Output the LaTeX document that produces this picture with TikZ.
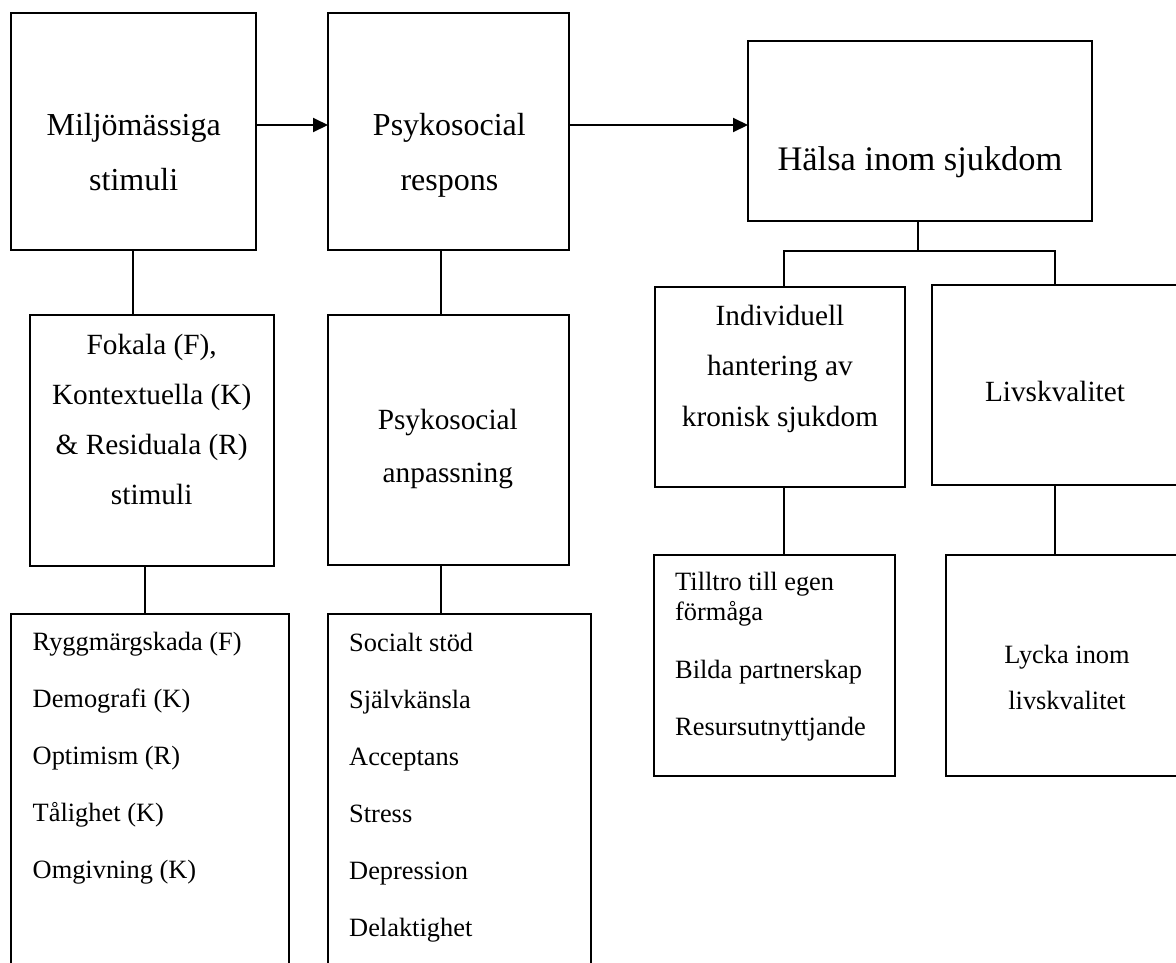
\documentclass[tikz,border=0pt]{standalone}
\usepackage{fontspec}
\setmainfont{Liberation Serif}
\usetikzlibrary{arrows.meta}

\begin{document}
\begin{tikzpicture}[x=1pt, y=-1pt, >={Triangle[length=15pt,width=14pt]},
  box/.style 2 args={draw, line width=2pt, inner sep=0pt, outer sep=0pt,
    minimum width=#1, minimum height=#2},
  conn/.style={line width=2pt},
  txt/.style={inner sep=0pt, anchor=base, align=center}]
\useasboundingbox (0,0) rectangle (1176,962);
\clip (0,0) rectangle (1176,962);

% boxes
\node[box={245pt}{237pt}] (b1) at (133,131.4) {};
\node[box={241pt}{237pt}] (b2) at (448.5,131.4) {};
\node[box={344pt}{180pt}] (b3) at (920,131) {};
\node[box={244pt}{251pt}] (b4) at (152,440.5) {};
\node[box={241.5pt}{250pt}] (b5) at (448.7,440) {};
\node[box={278pt}{386pt}] (b6) at (150,807) {};
\node[box={263pt}{386pt}] (b7) at (459.5,807) {};
\node[box={250pt}{200pt}] (b8) at (780,387) {};
\node[box={268pt}{200pt}] (b9) at (1066,385) {};
\node[box={241pt}{221pt}] (b10) at (774.5,665.5) {};
\node[box={254pt}{221pt}] (b11) at (1073,665.5) {};

% texts (base = last line)
\node[txt, font=\fontsize{32}{55}\selectfont] (t1) at (133.7,190) {Miljömässiga\\stimuli};
\node[txt, font=\fontsize{32}{55}\selectfont] (t2) at (449.4,190) {Psykosocial\\respons};
\node[txt, font=\fontsize{34.4}{40}\selectfont] (t3) at (920,170) {Hälsa inom sjukdom};
\node[txt, font=\fontsize{29.3}{50}\selectfont] (t4) at (151.7,504)
  {Fokala (F),\\Kontextuella (K)\\\& Residuala (R)\\stimuli};
\node[txt, font=\fontsize{29.3}{53}\selectfont] (t5) at (447.8,482) {Psykosocial\\anpassning};
\node[txt, font=\fontsize{29.3}{50.5}\selectfont] (t8) at (780,426)
  {Individuell\\hantering av\\kronisk sjukdom};
\node[txt, font=\fontsize{29.3}{35}\selectfont] (t9) at (1055,401.7) {Livskvalitet};
\node[txt, anchor=base west, align=left, font=\fontsize{26.4}{57}\selectfont] (t6) at (32.5,878)
  {Ryggmärgskada (F)\\Demografi (K)\\Optimism (R)\\Tålighet (K)\\Omgivning (K)};
\node[txt, anchor=base west, align=left, font=\fontsize{26.4}{57}\selectfont] (t7) at (349,936.7)
  {Socialt stöd\\Självkänsla\\Acceptans\\Stress\\Depression\\Delaktighet};
\node[txt, anchor=base west, align=left, font=\fontsize{26.4}{30}\selectfont] (t10) at (675,735)
  {Tilltro till egen\\förmåga\\[28pt]Bilda partnerskap\\[27pt]Resursutnyttjande};
\node[txt, font=\fontsize{26.4}{46}\selectfont] (t11) at (1067,709) {Lycka inom\\livskvalitet};

% connectors
\draw[conn, ->] ([yshift=6.4pt]b1.east) -- ([yshift=6.4pt]b2.west);
\draw[conn, ->] ([yshift=6.4pt]b2.east) -- ([yshift=6pt]b3.west);
\draw[conn] (b1.south) -- (b1.south |- b4.north);
\draw[conn] ([xshift=-7.3pt]b4.south) coordinate (c4) -- (c4 |- b6.north);
\draw[conn] ([xshift=-7.5pt]b2.south) coordinate (c2) -- (c2 |- b5.north);
\draw[conn] ([xshift=-7.7pt]b5.south) coordinate (c5) -- (c5 |- b7.north);

\coordinate (bar) at (0,251);
\coordinate (d8) at ([xshift=4pt]b8.north);
\coordinate (d9) at ([xshift=-11pt]b9.north);
\draw[conn] ([xshift=-2pt]b3.south) coordinate (c3) -- (c3 |- bar);
\draw[conn] (d8) -- (d8 |- bar) -- (d9 |- bar) -- (d9);
\draw[conn] (d8 |- b8.south) -- (d8 |- b10.north);
\draw[conn] (d9 |- b9.south) -- (d9 |- b11.north);
\end{tikzpicture}
\end{document}
